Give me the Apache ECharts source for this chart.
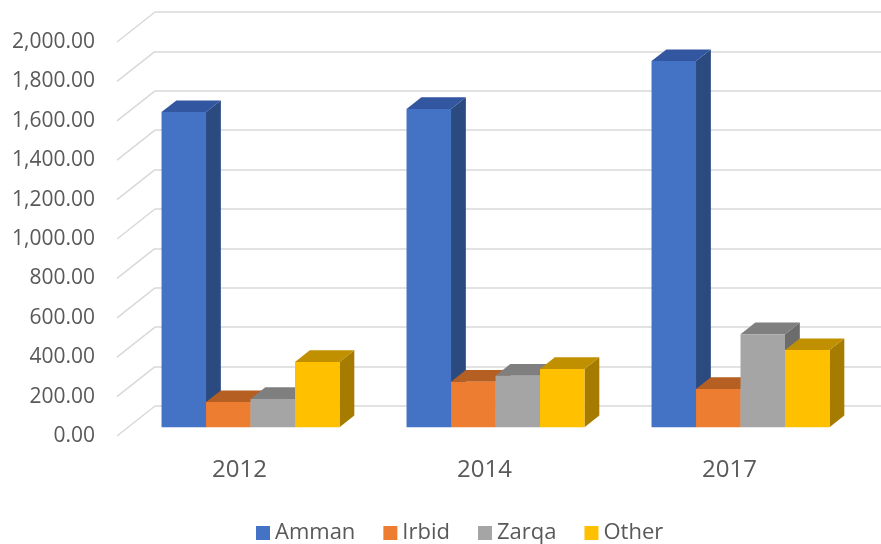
<!DOCTYPE html>
<html>
<head>
<meta charset="utf-8">
<script src="https://cdn.jsdelivr.net/npm/echarts@6/dist/echarts.min.js"></script>
<style>
  html, body { margin: 0; padding: 0; background: #fff; }
  #chart { width: 881px; height: 544px; }
</style>
</head>
<body>
<div id="chart"></div>
<script>
  const years = ['2012', '2014', '2017'];
  const amman = [1600, 1616, 1859];
  const irbid = [128, 231, 195];
  const zarqa = [144, 262, 472];
  const other = [332, 296, 392];
  const yTicks = [0, 200, 400, 600, 800, 1000, 1200, 1400, 1600, 1800, 2000];

  // front / top / side colours of the 3D bars
  const palette = [
    { name: 'Amman', data: amman, front: '#4472C4', top: '#3256A0', side: '#2A4A80' },
    { name: 'Irbid', data: irbid, front: '#ED7D31', top: '#B55F22', side: '#A0521C' },
    { name: 'Zarqa', data: zarqa, front: '#A5A5A5', top: '#7F7F7F', side: '#6C6C6C' },
    { name: 'Other', data: other, front: '#FFC000', top: '#C09000', side: '#A67C00' }
  ];

  const DEPTH_X = 38, DEPTH_Y = -30; // front plane -> back wall
  const BAR_START = 0.29; // bar front face depth (fraction)
  const BAR_DEPTH = 0.39; // bar thickness (fraction)
  const BAR_FRAC = 0.1816; // bar width / category band

  const fmt = (v) => {
    const s = v.toFixed(2).split('.');
    return s[0].replace(/\B(?=(\d{3})+(?!\d))/g, ',') + '.' + s[1];
  };

  const barRender = (idx, p) => function (params, api) {
    const cat = api.value(0);
    const top = api.coord([cat, api.value(1)]);
    const base = api.coord([cat, 0]);
    const band = api.size([1, 0])[0];
    const w = band * BAR_FRAC;
    const sx = DEPTH_X * BAR_START, sy = DEPTH_Y * BAR_START;
    const dx = DEPTH_X * BAR_DEPTH, dy = DEPTH_Y * BAR_DEPTH;
    const x0 = top[0] - w * 2 + idx * w + sx;
    const x1 = x0 + w;
    const yt = top[1] + sy;
    const yb = base[1] + sy;
    return {
      type: 'group',
      children: [
        { type: 'polygon', shape: { points: [[x1, yb], [x1 + dx, yb + dy], [x1 + dx, yt + dy], [x1, yt]] }, style: { fill: p.side } },
        { type: 'polygon', shape: { points: [[x0, yt], [x0 + dx, yt + dy], [x1 + dx, yt + dy], [x1, yt]] }, style: { fill: p.top } },
        { type: 'rect', shape: { x: x0, y: yt, width: w, height: yb - yt }, style: { fill: p.front } }
      ]
    };
  };

  const chart = echarts.init(document.getElementById('chart'));

  const barSeries = palette.map((p, i) => ({
    name: p.name,
    type: 'custom',
    xAxisIndex: 0,
    yAxisIndex: 0,
    renderItem: barRender(i, p),
    itemStyle: { color: p.front },
    encode: { x: 0, y: 1 },
    data: p.data.map((v, k) => [k, v]),
    silent: true,
    animation: false
  }));

  const option = {
    backgroundColor: '#fff',
    textStyle: { fontFamily: 'Open Sans' },
    grid: [
      { left: 117, right: 29, top: 42, bottom: 108 },
      { left: 117 + DEPTH_X, right: 0, top: 42 + DEPTH_Y, bottom: 108 - DEPTH_Y }
    ],
    legend: {
      top: 517,
      left: 251,
      icon: 'rect',
      itemWidth: 14,
      itemHeight: 14,
      itemGap: 28,
      data: palette.map((p) => p.name),
      textStyle: { color: '#595959', fontSize: 22, fontFamily: 'Open Sans' }
    },
    xAxis: [
      {
        type: 'category',
        gridIndex: 0,
        data: years,
        axisLine: { show: false },
        axisTick: { show: false },
        axisLabel: { color: '#595959', fontSize: 24, margin: 22 }
      },
      { type: 'value', gridIndex: 1, min: 0, max: 1, show: false }
    ],
    yAxis: [
      {
        type: 'value',
        gridIndex: 0,
        min: 0,
        max: 2000,
        interval: 200,
        axisLine: { show: false },
        axisTick: { show: false },
        splitLine: { show: false },
        axisLabel: { color: '#595959', fontSize: 21, margin: 22, formatter: fmt }
      },
      {
        type: 'value',
        gridIndex: 1,
        min: 0,
        max: 2000,
        interval: 200,
        axisLine: { show: false },
        axisTick: { show: false },
        axisLabel: { show: false },
        splitLine: { lineStyle: { color: '#D9D9D9', width: 1.5 } }
      }
    ],
    series: [
      {
        type: 'custom',
        xAxisIndex: 1,
        yAxisIndex: 1,
        silent: true,
        animation: false,
        data: yTicks.map((t) => [0, t]),
        encode: { x: 0, y: 1 },
        renderItem: (params, api) => {
          const pt = api.coord([0, api.value(1)]);
          return {
            type: 'line',
            shape: { x1: pt[0], y1: pt[1], x2: pt[0] - DEPTH_X, y2: pt[1] - DEPTH_Y },
            style: { stroke: '#D9D9D9', lineWidth: 1.5 }
          };
        }
      }
    ].concat(barSeries)
  };

  chart.setOption(option);
</script>
</body>
</html>
